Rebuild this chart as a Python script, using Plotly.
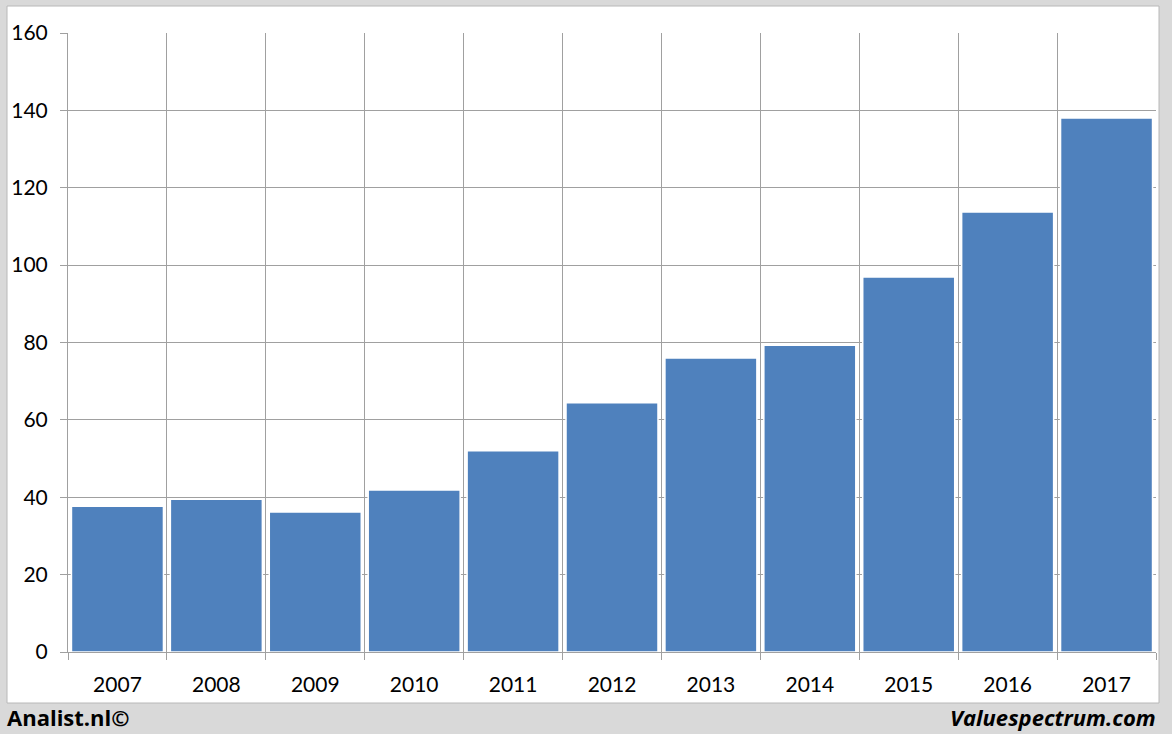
import plotly.graph_objects as go

years = ["2007", "2008", "2009", "2010", "2011", "2012", "2013", "2014", "2015", "2016", "2017"]
values = [37.7, 39.5, 36.2, 41.9, 52.0, 64.4, 76.0, 79.3, 96.9, 113.7, 138.0]
y_ticks = [0, 20, 40, 60, 80, 100, 120, 140, 160]

W, H = 1172, 734
L, R, T, B = 68, 16, 33, 82

xs = list(range(len(years)))
fig = go.Figure(go.Bar(
    x=xs, y=values,
    marker=dict(color="#4F81BD", line=dict(color="white", width=1.5)),
    width=0.93,
))

font = "Lato, 'Open Sans', sans-serif"
fig.update_layout(
    width=W, height=H,
    margin=dict(l=L, r=R, t=T, b=B),
    paper_bgcolor="#d9d9d9",
    plot_bgcolor="white",
    showlegend=False,
    font=dict(family=font, size=21, color="black"),
    xaxis=dict(
        range=[-0.5, len(years) - 0.5],
        tickvals=xs, ticktext=years,
        showgrid=False, ticks="", zeroline=False,
        tickfont=dict(size=21),
        ticklabelstandoff=14,
        automargin=False,
        minor=dict(tickvals=[i - 0.5 for i in range(len(years) + 1)],
                   showgrid=True, gridcolor="#a0a0a0", gridwidth=1,
                   ticks="outside", ticklen=7, tickcolor="#a0a0a0"),
        showline=True, linecolor="#a0a0a0", mirror=False,
        fixedrange=True,
    ),
    yaxis=dict(
        range=[0, 160], tickvals=y_ticks,
        showgrid=True, gridcolor="#a0a0a0", gridwidth=1,
        ticks="outside", ticklen=7, tickcolor="#a0a0a0",
        zeroline=False, showline=True, linecolor="#a0a0a0",
        tickfont=dict(size=21),
        ticklabelstandoff=8,
        automargin=False,
        fixedrange=True,
    ),
    bargap=0.04,
    shapes=[dict(type="rect", xref="paper", yref="paper",
                 x0=(7 - L) / (W - L - R), x1=(1159 - L) / (W - L - R),
                 y0=(H - B - 703) / (H - T - B), y1=(H - B - 6) / (H - T - B),
                 fillcolor="white", line=dict(color="#b8b8b8", width=1), layer="below")],
    annotations=[
        dict(text="<b>Analist.nl©</b>", xref="paper", yref="paper",
             x=(5 - L) / (W - L - R), y=(H - B - 717) / (H - T - B),
             xanchor="left", yanchor="middle", showarrow=False,
             font=dict(size=22, family="'Open Sans', sans-serif", color="black")),
        dict(text="<b><i>Valuespectrum.com</i></b>", xref="paper", yref="paper",
             x=(1158 - L) / (W - L - R), y=(H - B - 717) / (H - T - B),
             xanchor="right", yanchor="middle", showarrow=False,
             font=dict(size=22, family="'Open Sans', sans-serif", color="black")),
    ],
)

fig.write_html("out.html", config={"displayModeBar": False},
               post_script="document.body.style.margin='0';document.body.style.background='#d9d9d9';")
